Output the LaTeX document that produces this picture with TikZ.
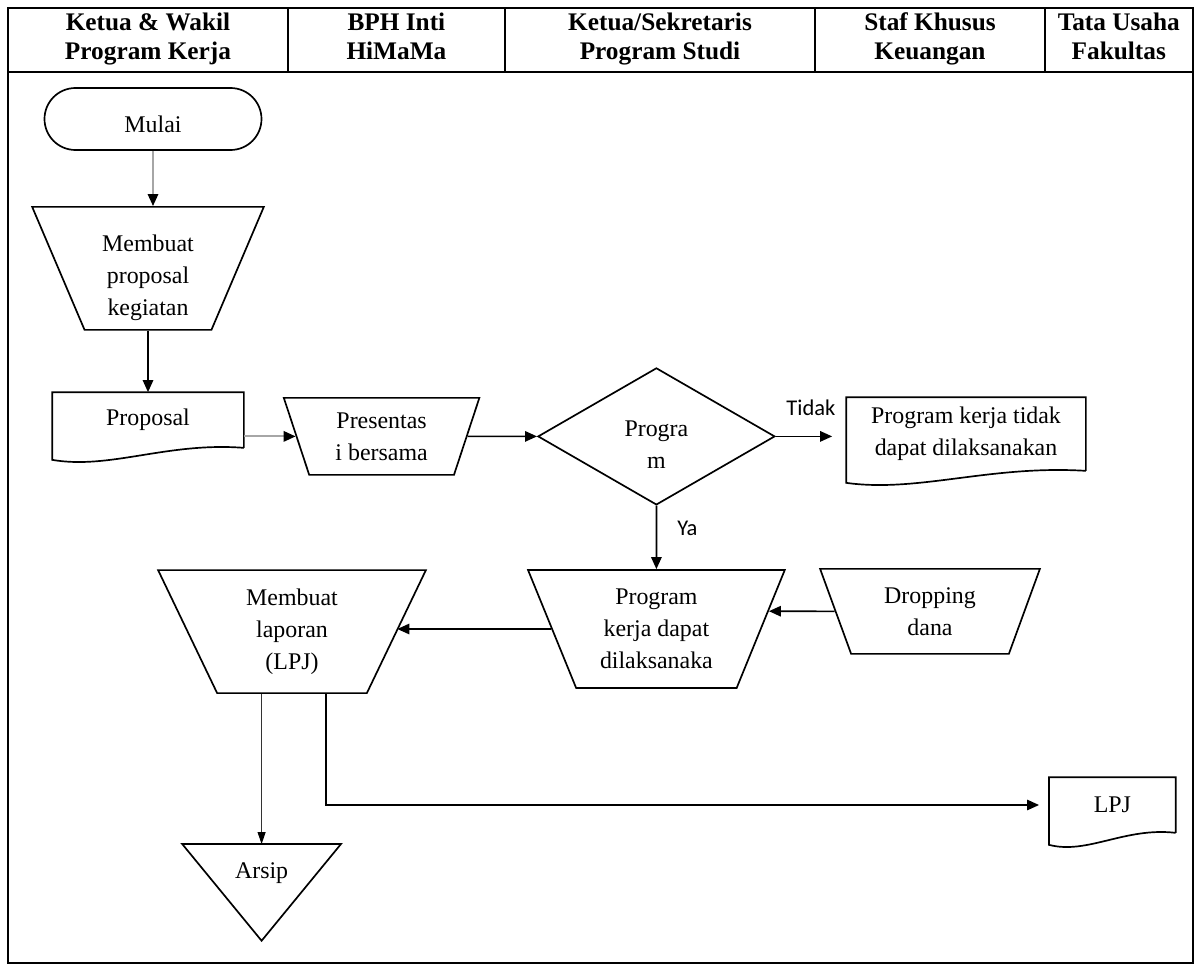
\documentclass[tikz,border=0pt]{standalone}
\usepackage{fontspec}
\setmainfont{Liberation Serif}
\newfontfamily\ynfont{Carlito}
\usetikzlibrary{arrows.meta,calc,shapes.geometric}

\begin{document}
\begin{tikzpicture}[line width=1.2pt,
  every node/.style={font=\fontsize{17}{22.7}\selectfont,align=center,inner sep=0pt},
  head/.style={font=\bfseries\fontsize{18}{21}\selectfont,text height=1.2cm,text depth=0.15cm},
  proc/.style={draw,trapezium,trapezium stretches=true,trapezium left angle=#1,trapezium right angle=#1},
  doc/.style={minimum width=#1},
  arr/.style={-{Triangle[length=3mm,width=2.6mm]}},
  garr/.style={draw=gray!70,line width=1.4pt,-{Triangle[length=3mm,width=2.6mm,color=black]}},
  yn/.style={font=\ynfont\fontsize{16}{18}\selectfont}]
\useasboundingbox (0,0) rectangle (30.075,-24.425);

\draw (0.2,-0.2) rectangle (29.825,-24.075);
\draw (0.2,-1.8) -- (29.825,-1.8);
\foreach \x in {7.2,12.625,20.375,26.125}
  \draw (\x,-0.2) -- (\x,-1.8);
\foreach \x/\t [count=\i] in {3.7/{Ketua \& Wakil\\Program Kerja},9.91/{BPH Inti\\HiMaMa},
    16.5/{Ketua/Sekretaris\\Program Studi},23.25/{Staf Khusus\\Keuangan},27.97/{Tata Usaha\\Fakultas}}
  \node[head] (h\i) at (\x,-0.97) {\t};

\node[draw,rounded corners=0.775cm,minimum width=5.425cm,minimum height=1.55cm,text height=0.7cm] (mulai) at (3.825,-2.975) {Mulai};
\node[proc=110,minimum width=5.8cm,minimum height=3.075cm,text height=2.47cm] (mbp) at (3.7,-6.71) {Membuat\\proposal\\kegiatan};
\node[doc=4.75cm,minimum height=1.35cm] (proposal) at (3.7,-10.5) {Proposal};
\node[proc=108.7,minimum width=4.925cm,minimum height=1.925cm] (pres) at (9.54,-10.91) {Presentas\\i bersama};
\node[draw,diamond,minimum width=5.925cm,minimum height=3.425cm,text height=1.58cm] (kep) at (16.41,-10.91) {Progra\\m};
\node[doc=5.95cm,minimum height=1.8cm] (tdk) at (24.15,-10.85) {Program kerja tidak\\dapat dilaksanakan};
\node[proc=113,minimum width=6.425cm,minimum height=2.95cm] (pkd) at (16.41,-15.725) {Program\\kerja dapat\\dilaksanaka};
\node[proc=110.6,minimum width=5.5cm,minimum height=2.125cm] (drop) at (23.25,-15.285) {Dropping\\dana};
\node[proc=112.9,minimum width=6.7cm,minimum height=3.075cm] (mlpj) at (7.3,-15.79) {Membuat\\laporan\\(LPJ)};
\node[doc=3.125cm,minimum height=1.35cm] (lpj) at (27.81,-20.125) {LPJ};
\node[minimum width=3.925cm,minimum height=2.375cm,text height=0.4cm,text depth=1.1cm] (arsip) at (6.54,-22.31) {Arsip};

\foreach \n in {proposal,tdk,lpj}
  \draw (\n.south east) -- (\n.north east) -- (\n.north west) -- ($(\n.south west)+(0,-0.3)$)
    .. controls ($(\n.south west)!0.3!(\n.south east)+(0,-0.55)$) and ($(\n.south west)!0.6!(\n.south east)+(0,0.15)$) .. (\n.south east);
\draw (arsip.north west) -- (arsip.north east) -- (arsip.south) -- cycle;

\draw[garr] (mulai.south) -- (mulai.south |- mbp.north);
\draw[arr] (mbp.south) -- (mbp.south |- proposal.north);
\draw[garr] (proposal.east |- pres.west) -- (pres.west);
\draw[arr] (pres.east) -- (kep.west);
\draw[arr,shorten >=0.35cm] (kep.east) -- node[yn,above=0.5cm] {Tidak} (kep.east -| tdk.west);
\draw[arr] (kep.south) -- node[yn,right=0.5cm,pos=0.35] {Ya} (pkd.north);
\draw[arr] (drop.west) -- (pkd.9);
\draw[arr] (pkd.west) -- (pkd.west -| mlpj.east);
\coordinate (lpjout) at ($(mlpj.south)+(0.85,0)$);
\draw[arr,shorten >=0.25cm] (lpjout) |- (lpj.west);
\draw[line width=0.7pt,draw=gray!40!black,-{Triangle[length=3mm,width=2mm,color=black]}] (mlpj.south -| arsip.north) -- (arsip.north);
\end{tikzpicture}
\end{document}
